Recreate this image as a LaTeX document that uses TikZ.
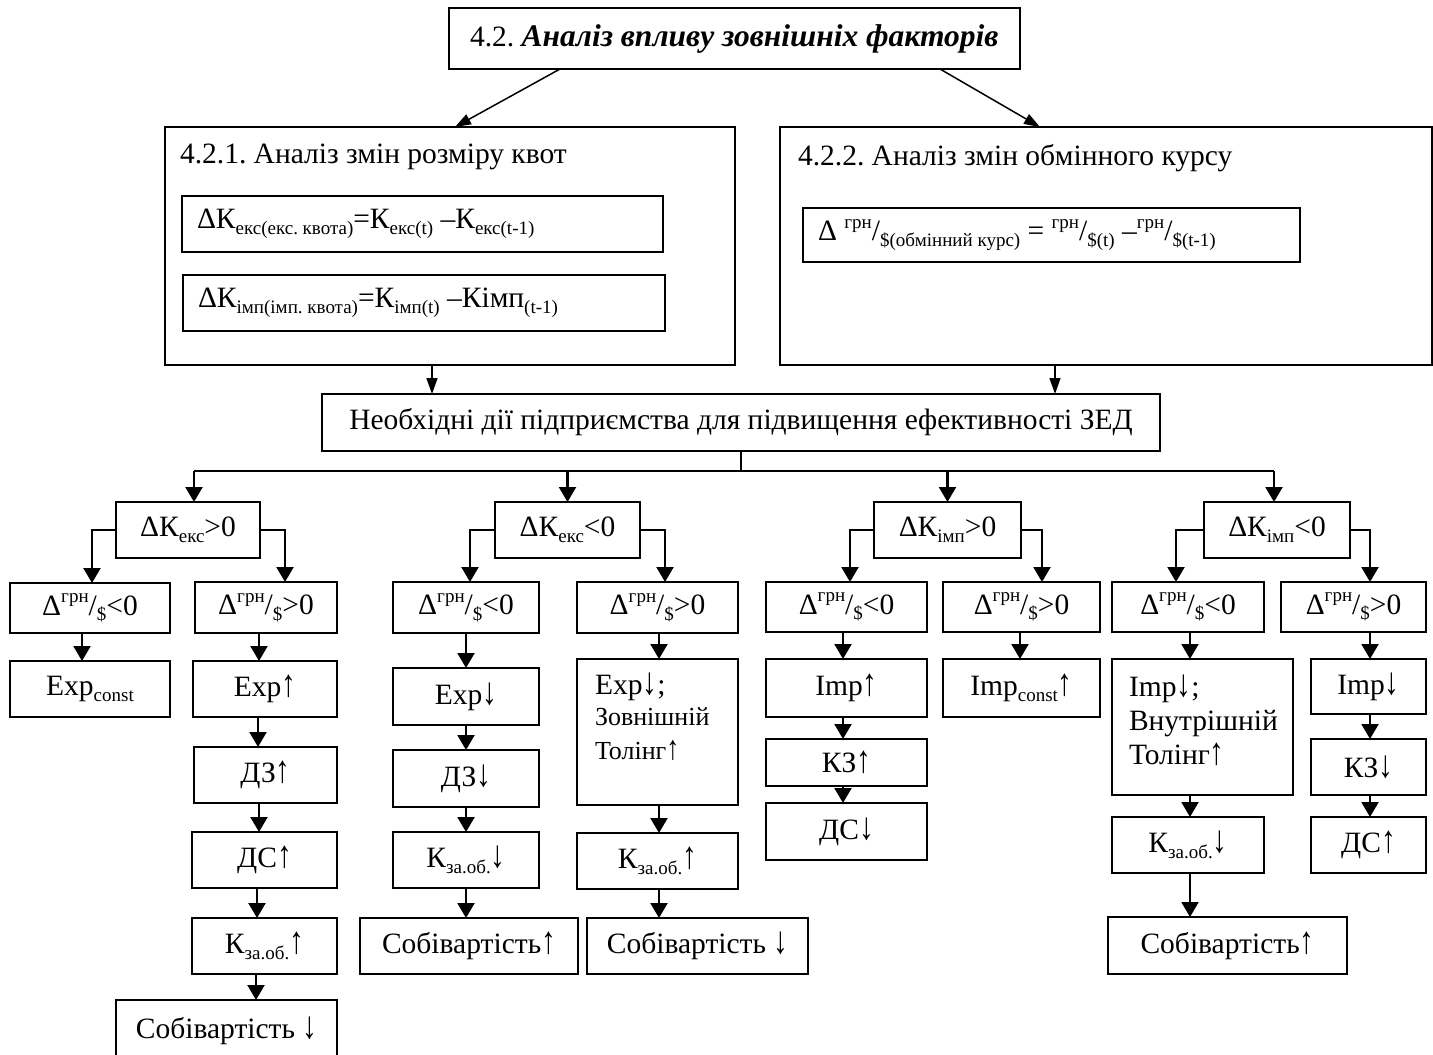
\documentclass[tikz,border=0pt]{standalone}
\usepackage{fontspec}
\usepackage{graphicx}
\setmainfont{Liberation Serif}
\usetikzlibrary{arrows.meta}
\frenchspacing

% small raised / lowered indices
\newcommand\hi[1]{\raisebox{0.42em}{\fontsize{19}{19}\selectfont #1}}
\newcommand\lo[1]{\raisebox{-0.2em}{\fontsize{19}{19}\selectfont #1}}
\newcommand\rate{Δ\hi{грн}/\lo{\$}}
% taller arrows for growth / decline
\newcommand\arup{\scalebox{1}[1.3]{↑}}
\newcommand\ardn{\scalebox{1}[1.3]{↓}}
% box given by its corners (x1,y1)--(x2,y2)
\newcommand\placebox[7][]{%
  \node[box,minimum width={#5-#3},minimum height={#6-#4},#1] (#2) at ({(#3+#5)/2},{(#4+#6)/2}) {#7};}
% text set from the upper left corner of a box
\newcommand\topleft[5]{\parbox[c][#2pt][t]{#1pt}{\vspace*{#4pt}\leftskip=#3pt #5}}
\newcommand\midleft[4]{\parbox[c][#2pt][c]{#1pt}{\leftskip=#3pt #4}}

\tikzset{
  box/.style={draw, line width=1.4pt, inner sep=0pt, outer sep=0pt,
    font=\fontsize{29.5}{34}\selectfont},
  conn/.style={line width=2.2pt, -{Triangle[length=15pt,width=17pt]}},
  slim/.style={line width=1.5pt, -{Triangle[length=16pt,width=11pt]}},
  bus/.style={line width=2.2pt},
}

\begin{document}
\begin{tikzpicture}[x=1pt,y=-1pt]
\clip (0,0) rectangle (1433,1055);

% heading and the two analysis blocks
\placebox{top}{449}{8}{1020}{69}{\midleft{571}{61}{21}{4.2. {\fontsize{31.5}{36}\selectfont\textbf{\textit{Аналіз впливу зовнішніх факторів}}}}}
\placebox{L}{165}{127}{735}{365}{\topleft{570}{238}{15}{17}{4.2.1. Аналіз змін розміру квот}}
\placebox{R}{780}{127}{1432}{365}{\topleft{652}{238}{18}{17}{4.2.2. Аналіз змін обмінного курсу}}
\placebox{L1}{182}{196}{663}{252}{\midleft{481}{56}{15}{ΔК\lo{екс(екс. квота)}=К\lo{екс(t)} –К\lo{екс(t-1)}}}
\placebox{L2}{183}{275}{665}{331}{\midleft{482}{56}{15}{ΔК\lo{імп(імп. квота)}=К\lo{імп(t)} –Кімп\lo{(t-1)}}}
\placebox{R1}{803}{208}{1300}{262}{\midleft{497}{54}{15}{Δ \hi{грн}/\lo{\$(обмінний курс)} = \hi{грн}/\lo{\$(t)} –\hi{грн}/\lo{\$(t-1)}}}

\placebox{need}{322}{394}{1160}{451}{Необхідні дії підприємства для підвищення ефективності ЗЕД}

% four cases
\placebox{KEp}{116}{502}{260}{558}{ΔК\lo{екс}>0}
\placebox{KEm}{495}{502}{640}{558}{ΔК\lo{екс}<0}
\placebox{KIp}{874}{502}{1021}{558}{ΔК\lo{імп}>0}
\placebox{KIm}{1204}{502}{1350}{558}{ΔК\lo{імп}<0}

% exchange rate sub-cases
\placebox{A1}{10}{583}{170}{633}{\rate<0}
\placebox{A2}{195}{582}{337}{633}{\rate>0}
\placebox{B1}{393}{582}{539}{633}{\rate<0}
\placebox{B2}{577}{582}{738}{633}{\rate>0}
\placebox{C1}{766}{582}{927}{632}{\rate<0}
\placebox{C2}{943}{582}{1100}{632}{\rate>0}
\placebox{D1}{1112}{582}{1264}{632}{\rate<0}
\placebox{D2}{1281}{582}{1426}{632}{\rate>0}

% consequences
\placebox{A1b}{10}{661}{170}{717}{Exp\lo{const}}
\placebox{A2b}{193}{661}{337}{717}{Exp\arup}
\placebox{A3}{194}{747}{337}{803}{ДЗ\arup}
\placebox{A4}{192}{832}{337}{888}{ДС\arup}
\placebox{A5}{192}{918}{337}{974}{К\lo{за.об.}\arup}
\placebox{A6}{116}{1000}{337}{1062}{Собівартість \ardn}

\placebox{B3}{393}{668}{539}{725}{Exp\ardn}
\placebox{B4}{393}{750}{539}{807}{ДЗ\ardn}
\placebox{B5}{393}{832}{539}{888}{К\lo{за.об.}\ardn}
\placebox{B6}{360}{918}{578}{974}{Собівартість\arup}
\placebox{B2b}{577}{659}{738}{805}{\topleft{161}{146}{18}{14}{Exp\ardn;\\[-3pt]{\fontsize{26}{29}\selectfont Зовнішній\\Толінг\arup}}}
\placebox{B7}{577}{833}{738}{889}{К\lo{за.об.}\arup}
\placebox{B8}{587}{918}{808}{974}{Собівартість \ardn}

\placebox{C3}{766}{659}{927}{717}{Imp\arup}
\placebox{C4}{766}{739}{927}{786}{КЗ\arup}
\placebox{C5}{766}{803}{927}{860}{ДС\ardn}
\placebox{C6}{943}{659}{1100}{717}{Imp\lo{const}\arup}

\placebox{D3}{1112}{659}{1293}{795}{\topleft{181}{136}{17}{16}{Imp\ardn;\\Внутрішній\\Толінг\arup}}
\placebox{D4}{1112}{817}{1264}{873}{К\lo{за.об.}\ardn}
\placebox{D5}{1108}{917}{1347}{974}{Собівартість\arup}
\placebox{D6}{1311}{659}{1426}{714}{Imp\ardn}
\placebox{D7}{1311}{739}{1426}{795}{КЗ\ardn}
\placebox{D8}{1311}{817}{1426}{873}{ДС\arup}

% upper connectors
\draw[slim] (top.south -| 560,0) -- (L.north -| 455,0);
\draw[slim] (top.south -| 940,0) -- (R.north -| 1040,0);
\draw[slim] (L.south -| 432,0) -- (need.north -| 432,0);
\draw[slim] (R.south -| 1055,0) -- (need.north -| 1055,0);

% distribution line
\coordinate (busL) at (194,471);
\coordinate (busR) at (1274,471);
\draw[bus] (need.south) -- (need.south |- busL);
\draw[bus] (busL) -- (busR);
\draw[conn] (busL) -- (KEp.north -| busL);
\draw[conn] (KEm.north |- busL) -- (KEm.north);
\draw[conn] (KIp.north |- busL) -- (KIp.north);
\draw[conn] (busR) -- (KIm.north -| busR);

% branches of each case
\draw[conn] (KEp.west) -| (A1.north -| 92,0);
\draw[conn] (KEp.east) -| (A2.north -| 285,0);
\draw[conn] (KEm.west) -| (B1.north -| 470,0);
\draw[conn] (KEm.east) -| (B2.north -| 665,0);
\draw[conn] (KIp.west) -| (C1.north -| 850,0);
\draw[conn] (KIp.east) -| (C2.north -| 1042,0);
\draw[conn] (KIm.west) -| (D1.north -| 1176,0);
\draw[conn] (KIm.east) -| (D2.north -| 1370,0);

% chains
\draw[conn] (A1.south -| 82,0) -- (A1b.north -| 82,0);
\draw[conn] (A2.south -| 259,0) -- (A2b.north -| 259,0);
\draw[conn] (A2b.south -| 258,0) -- (A3.north -| 258,0);
\draw[conn] (A3.south -| 259,0) -- (A4.north -| 259,0);
\draw[conn] (A4.south -| 257,0) -- (A5.north -| 257,0);
\draw[conn] (A5.south -| 256,0) -- (A6.north -| 256,0);

\draw[conn] (B1.south -| 466,0) -- (B3.north -| 466,0);
\draw[conn] (B3.south -| 466,0) -- (B4.north -| 466,0);
\draw[conn] (B4.south -| 466,0) -- (B5.north -| 466,0);
\draw[conn] (B5.south -| 466,0) -- (B6.north -| 466,0);
\draw[conn] (B2.south -| 659,0) -- (B2b.north -| 659,0);
\draw[conn] (B2b.south -| 659,0) -- (B7.north -| 659,0);
\draw[conn] (B7.south -| 659,0) -- (B8.north -| 659,0);

\draw[conn] (C1.south -| 843,0) -- (C3.north -| 843,0);
\draw[conn] (C3.south -| 843,0) -- (C4.north -| 843,0);
\draw[conn] (C4.south -| 843,0) -- (C5.north -| 843,0);
\draw[conn] (C2.south -| 1020,0) -- (C6.north -| 1020,0);

\draw[conn] (D1.south -| 1190,0) -- (D3.north -| 1190,0);
\draw[conn] (D3.south -| 1190,0) -- (D4.north -| 1190,0);
\draw[conn] (D4.south -| 1190,0) -- (D5.north -| 1190,0);
\draw[conn] (D2.south -| 1370,0) -- (D6.north -| 1370,0);
\draw[conn] (D6.south -| 1370,0) -- (D7.north -| 1370,0);
\draw[conn] (D7.south -| 1370,0) -- (D8.north -| 1370,0);
\end{tikzpicture}
\end{document}
